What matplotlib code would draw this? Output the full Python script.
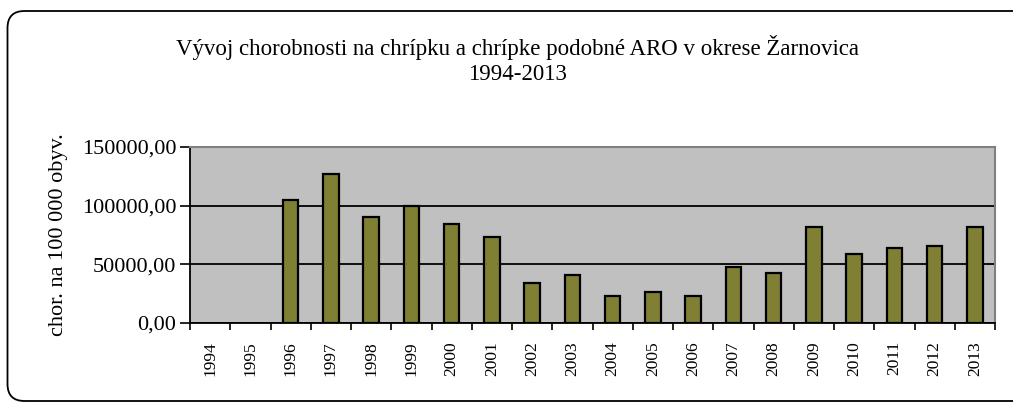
import matplotlib
matplotlib.use("Agg")
import matplotlib.pyplot as plt
from matplotlib.patches import FancyBboxPatch
from matplotlib.ticker import FuncFormatter, MultipleLocator

years = [str(y) for y in range(1994, 2014)]
incidence = [0, 0, 104500, 127300, 90000, 99500, 84000, 73000, 34000, 40700,
             23200, 26300, 23200, 47500, 42400, 81500, 58600, 63700, 65400, 81500]

title = "Vývoj chorobnosti na chrípku a chrípke podobné ARO v okrese Žarnovica\n1994-2013"
ylabel = "chor. na 100 000 obyv."

plt.rcParams['font.family'] = ['Liberation Serif', 'DejaVu Serif']

fig = plt.figure(figsize=(10.13, 4.05), dpi=100)
ax = fig.add_axes([190 / 1013, 1 - 323 / 405, 805 / 1013, 176 / 405])

# rounded frame (in inches), running off the right and bottom edges
frame = FancyBboxPatch((0.075, 0.04), 10.3, 3.9,
                       boxstyle="round,pad=0,rounding_size=0.17",
                       transform=fig.dpi_scale_trans, fill=False,
                       edgecolor="black", linewidth=1.3)
fig.patches.append(frame)

x = list(range(len(years)))
ax.set_facecolor("#c0c0c0")
ax.bar(x, incidence, width=0.38, color="#808035", edgecolor="black",
       linewidth=[1.6 if v else 0 for v in incidence], zorder=3)

ax.set_xlim(-0.5, len(years) - 0.5)
ax.set_ylim(0, 150000)
ax.yaxis.set_major_locator(MultipleLocator(50000))
ax.yaxis.set_major_formatter(FuncFormatter(lambda v, p: f"{v:.2f}".replace(".", ",")))
ax.grid(axis="y", color="black", linewidth=1.3, zorder=1)

ax.set_xticks(x)
ax.set_xticklabels(years, rotation=90, fontsize=12.5)
ax.set_xticks([i - 0.5 for i in range(len(years) + 1)], minor=True)
ax.tick_params(axis="x", which="major", length=0, pad=13)
ax.tick_params(axis="x", which="minor", length=5, width=1.2)
ax.tick_params(axis="y", length=7, width=1.2, labelsize=16, pad=3)

for side in ("top", "right"):
    ax.spines[side].set_color("#808080")
    ax.spines[side].set_linewidth(1.5)
for side in ("left", "bottom"):
    ax.spines[side].set_color("black")
    ax.spines[side].set_linewidth(1.3)

ax.set_ylabel(ylabel, fontsize=16, labelpad=10)
fig.text(0.511, 0.852, title, ha="center", va="center", fontsize=16.5,
         linespacing=1.2)

fig.savefig("out.png", dpi=100)
